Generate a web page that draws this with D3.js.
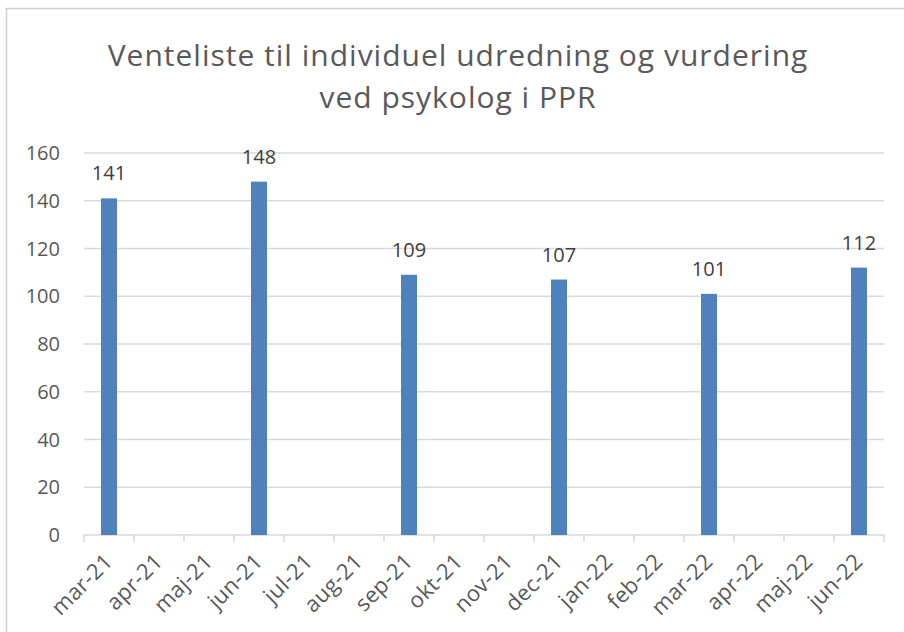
<!DOCTYPE html>
<meta charset="utf-8">
<style>
body{ margin:0; background:#fff; }
text{ font-family:"Open Sans", "Liberation Sans", sans-serif; fill:#595959; }
.grid line{ stroke:#d9d9d9; stroke-width:1.5px; }
.axis line{ stroke:#d9d9d9; stroke-width:1.5px; }
.title{ text-anchor:middle; font-size:30px; letter-spacing:1px; }
</style>
<body>
<div id="chart"></div>
<script src="https://d3js.org/d3.v7.min.js"></script>
<script>
var months = ["mar-21","apr-21","maj-21","jun-21","jul-21","aug-21","sep-21","okt-21",
              "nov-21","dec-21","jan-22","feb-22","mar-22","apr-22","maj-22","jun-22"];
var values = [141,null,null,148,null,null,109,null,null,107,null,null,101,null,null,112];
var yTicks = [0,20,40,60,80,100,120,140,160];
var titleLines = ["Venteliste til individuel udredning og vurdering","ved psykolog i PPR"];

var W = 904, H = 632;
var mLeft = 84, mRight = 884, mTop = 153, mBottom = 535;

var svg = d3.select("#chart").append("svg").attr("width", W).attr("height", H);

svg.append("rect").attr("x",6.5).attr("y",8.5).attr("width",W+20).attr("height",H+20)
    .attr("fill","none").attr("stroke","#d0d0d0").attr("stroke-width",1.5);

svg.selectAll(".title").data(titleLines).enter().append("text")
    .attr("class","title").attr("x",458).attr("y",(d,i)=>66+i*42).text(d=>d);

var x = d3.scaleBand().domain(months).range([mLeft,mRight]).paddingInner(0.68).paddingOuter(0.34);
var xb = d3.scaleBand().domain(months).range([mLeft,mRight]);
var y = d3.scaleLinear().domain([0,160]).range([mBottom,mTop]);

svg.append("g").attr("class","grid").selectAll("line").data(yTicks.slice(1)).enter().append("line")
    .attr("x1",mLeft).attr("x2",mRight).attr("y1",d=>y(d)).attr("y2",d=>y(d));

svg.append("g").selectAll("text").data(yTicks).enter().append("text")
    .attr("x",60).attr("y",d=>y(d)+7).attr("text-anchor","end")
    .style("font-size","20px").text(d=>d);

// x axis, ticks between categories
var xAxis = svg.append("g").attr("class","axis");
xAxis.append("line").attr("x1",mLeft).attr("x2",mRight).attr("y1",mBottom).attr("y2",mBottom);
xAxis.selectAll(".tk").data(months.concat(["end"])).enter().append("line").attr("class","tk")
    .attr("x1",(d,i)=>mLeft+i*xb.bandwidth()).attr("x2",(d,i)=>mLeft+i*xb.bandwidth())
    .attr("y1",mBottom).attr("y2",mBottom+7);

xAxis.selectAll(".lbl").data(months).enter().append("text").attr("class","lbl")
    .attr("text-anchor","end").style("font-size","22px").style("letter-spacing","0.3px")
    .attr("transform",d=>"translate("+(xb(d)+xb.bandwidth()/2+5)+","+(mBottom+28)+") rotate(-45)")
    .text(d=>d);

var data = months.map((m,i)=>({m:m, v:values[i]})).filter(d=>d.v!=null);

svg.selectAll(".bar").data(data).enter().append("rect").attr("class","bar")
    .attr("x",d=>x(d.m)).attr("width",x.bandwidth())
    .attr("y",d=>y(d.v)).attr("height",d=>mBottom-y(d.v))
    .attr("fill","#4f81bd");

svg.selectAll(".val").data(data).enter().append("text").attr("class","val")
    .attr("x",d=>x(d.m)+x.bandwidth()/2).attr("y",d=>y(d.v)-18)
    .attr("text-anchor","middle").style("font-size","20px").style("fill","#404040")
    .text(d=>d.v);
</script>
</body>
